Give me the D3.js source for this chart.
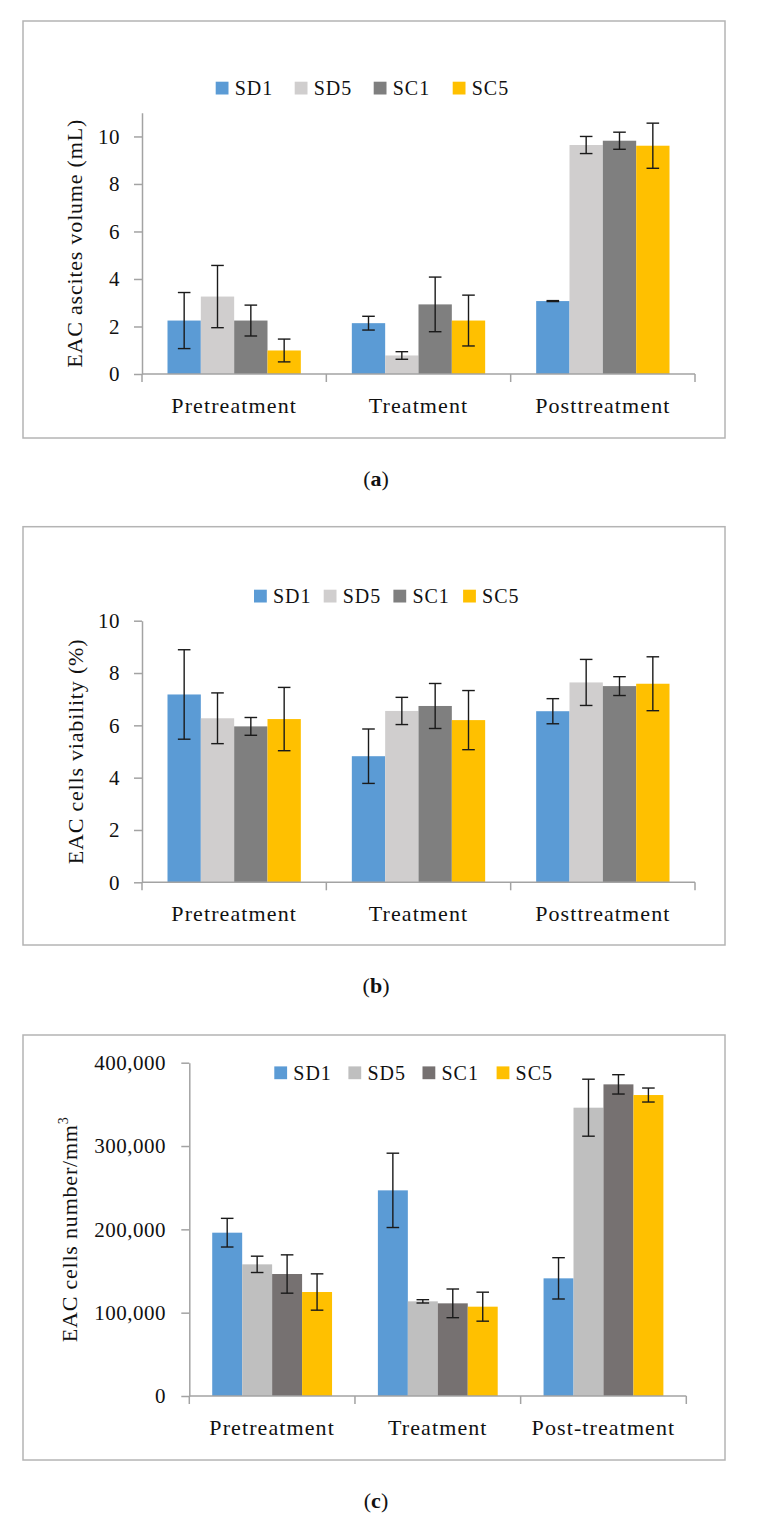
<!DOCTYPE html>
<html>
<head>
<meta charset="utf-8">
<script src="https://cdn.jsdelivr.net/npm/d3@7"></script>
<style>
  html, body { margin: 0; padding: 0; background: #ffffff; }
  svg { display: block; }
  text { font-family: "Liberation Serif", "Times New Roman", serif; fill: #111; }
</style>
</head>
<body>
<svg id="chart" width="765" height="1522"></svg>
<script>
// ---------------- DATA ----------------
const seriesNames = ["SD1", "SD5", "SC1", "SC5"];
const categoriesAB = ["Pretreatment", "Treatment", "Posttreatment"];
const categoriesC = ["Pretreatment", "Treatment", "Post-treatment"];

// rows = categories, columns = series (SD1, SD5, SC1, SC5)
const volumeMean = [[2.25, 3.26, 2.25, 0.99], [2.14, 0.78, 2.93, 2.25], [3.07, 9.64, 9.82, 9.61]];
const volumeErr  = [[1.18, 1.31, 0.65, 0.48], [0.29, 0.16, 1.15, 1.07], [0.02, 0.36, 0.36, 0.95]];

const viabilityMean = [[7.18, 6.27, 5.96, 6.24], [4.82, 6.55, 6.74, 6.20], [6.54, 7.64, 7.50, 7.59]];
const viabilityErr  = [[1.71, 0.97, 0.34, 1.21], [1.04, 0.52, 0.86, 1.13], [0.48, 0.88, 0.36, 1.03]];

const cellsMean = [[196000, 158000, 146400, 124800], [246800, 113600, 111200, 107200], [141200, 346000, 374000, 361200]];
const cellsErr  = [[17200, 9800, 23000, 21800], [44600, 2000, 17200, 17400], [24800, 34200, 11600, 8400]];

const volumeTicks = [0, 2, 4, 6, 8, 10];
const viabilityTicks = [0, 2, 4, 6, 8, 10];
const cellsTicks = [0, 100000, 200000, 300000, 400000];

const colorsAB = ["#5B9BD5", "#D0CECE", "#7F7F7F", "#FFC000"];
const colorsC  = ["#5B9BD5", "#BFBFBF", "#767171", "#FFC000"];

// ---------------- LAYOUT ----------------
const panels = [
  { cats: categoriesAB, mean: volumeMean, err: volumeErr, ticks: volumeTicks, yMax: 11, fmt: d3.format("d"),
    colors: colorsAB, frame: [23, 21, 725, 438], xr: [142, 695], yr: [374, 112.7], tickPad: 14,
    title: "EAC ascites volume (mL)", titleX: 82, sup: null,
    legendX: 215.7, legendStep: 79, legendY: 88, caption: "a", captionY: 486 },
  { cats: categoriesAB, mean: viabilityMean, err: viabilityErr, ticks: viabilityTicks, yMax: 10, fmt: d3.format("d"),
    colors: colorsAB, frame: [23, 526.7, 725, 945], xr: [142, 695], yr: [882.3, 620.7], tickPad: 14,
    title: "EAC cells viability (%)", titleX: 83, sup: null,
    legendX: 254, legendStep: 69.7, legendY: 596, caption: "b", captionY: 993 },
  { cats: categoriesC, mean: cellsMean, err: cellsErr, ticks: cellsTicks, yMax: 400000, fmt: d3.format(","),
    colors: colorsC, frame: [23, 1035, 725, 1460], xr: [189.3, 686.3], yr: [1396, 1062.7], tickPad: 15.3,
    title: "EAC cells number/mm", titleX: 77, sup: "3",
    legendX: 274.3, legendStep: 74.1, legendY: 1072.7, caption: "c", captionY: 1508 }
];

const svg = d3.select("#chart");
const axisColor = "#a3a3a3";

panels.forEach(p => {
  const g = svg.append("g");
  // frame
  g.append("rect")
    .attr("x", p.frame[0]).attr("y", p.frame[1])
    .attr("width", p.frame[2] - p.frame[0]).attr("height", p.frame[3] - p.frame[1])
    .attr("fill", "none").attr("stroke", "#b4b4b4").attr("stroke-width", 1.5);

  const x0 = d3.scaleBand().domain(p.cats).range(p.xr).padding(0);
  const x1 = d3.scaleBand().domain(seriesNames).range([0, x0.bandwidth()]).paddingInner(0).paddingOuter(0.765);
  const y = d3.scaleLinear().domain([0, p.yMax]).range(p.yr);

  // y axis
  const yAxis = d3.axisLeft(y).tickValues(p.ticks).tickFormat(p.fmt)
    .tickSizeInner(8).tickSizeOuter(0).tickPadding(p.tickPad);
  const ya = g.append("g").attr("transform", `translate(${p.xr[0]},0)`).call(yAxis);
  ya.select(".domain").attr("stroke", axisColor).attr("stroke-width", 1.5);
  ya.selectAll(".tick line").attr("stroke", axisColor).attr("stroke-width", 1.5);
  ya.selectAll(".tick text").attr("font-size", 21).attr("fill", "#111")
    .attr("font-family", "Liberation Serif").attr("letter-spacing", "0.5px");

  // bars
  p.cats.forEach((c, ci) => {
    const cg = g.append("g").attr("transform", `translate(${x0(c)},0)`);
    seriesNames.forEach((s, si) => {
      const v = p.mean[ci][si];
      cg.append("rect")
        .attr("x", x1(s)).attr("width", x1.bandwidth())
        .attr("y", y(v)).attr("height", y(0) - y(v))
        .attr("fill", p.colors[si]);
    });
    // error bars
    seriesNames.forEach((s, si) => {
      const v = p.mean[ci][si], e = p.err[ci][si];
      const cx = x1(s) + x1.bandwidth() / 2;
      const eg = cg.append("g").attr("stroke", "#1a1a1a").attr("stroke-width", 1.4);
      eg.append("line").attr("x1", cx).attr("x2", cx).attr("y1", y(v + e)).attr("y2", y(v - e));
      eg.append("line").attr("x1", cx - 6.3).attr("x2", cx + 6.3).attr("y1", y(v + e)).attr("y2", y(v + e));
      eg.append("line").attr("x1", cx - 6.3).attr("x2", cx + 6.3).attr("y1", y(v - e)).attr("y2", y(v - e));
    });
  });

  // x axis
  const y0 = y(0);
  g.append("line").attr("x1", p.xr[0]).attr("x2", p.xr[1]).attr("y1", y0).attr("y2", y0)
    .attr("stroke", axisColor).attr("stroke-width", 1.5);
  const bounds = p.cats.map(c => x0(c)).concat([x0(p.cats[p.cats.length - 1]) + x0.bandwidth()]);
  g.selectAll(null).data(bounds).enter().append("line")
    .attr("x1", d => d).attr("x2", d => d).attr("y1", y0).attr("y2", y0 + 8)
    .attr("stroke", axisColor).attr("stroke-width", 1.5);
  g.selectAll(null).data(p.cats).enter().append("text")
    .attr("x", d => x0(d) + x0.bandwidth() / 2).attr("y", y0 + 39)
    .attr("text-anchor", "middle").attr("font-size", 22).attr("letter-spacing", "1.1px")
    .text(d => d);

  // y title
  const midY = (p.yr[0] + p.yr[1]) / 2;
  const t = g.append("text")
    .attr("transform", `translate(${p.titleX},${midY}) rotate(-90)`)
    .attr("text-anchor", "middle").attr("font-size", 22).attr("letter-spacing", "0.8px")
    .text(p.title);
  if (p.sup) {
    t.append("tspan").attr("font-size", 14).attr("dy", -9).text(p.sup);
  }

  // legend
  seriesNames.forEach((s, si) => {
    const lx = p.legendX + si * p.legendStep;
    g.append("rect").attr("x", lx).attr("y", p.legendY - 6.3).attr("width", 12.8).attr("height", 12.8)
      .attr("fill", p.colors[si]);
    g.append("text").attr("x", lx + 19).attr("y", p.legendY + 7)
      .attr("font-size", 20).attr("letter-spacing", "1px").text(s);
  });

  // caption
  const cap = svg.append("text").attr("x", 376).attr("y", p.captionY)
    .attr("text-anchor", "middle").attr("font-size", 22);
  cap.append("tspan").text("(");
  cap.append("tspan").attr("font-weight", "bold").text(p.caption);
  cap.append("tspan").text(")");
});
</script>
</body>
</html>
